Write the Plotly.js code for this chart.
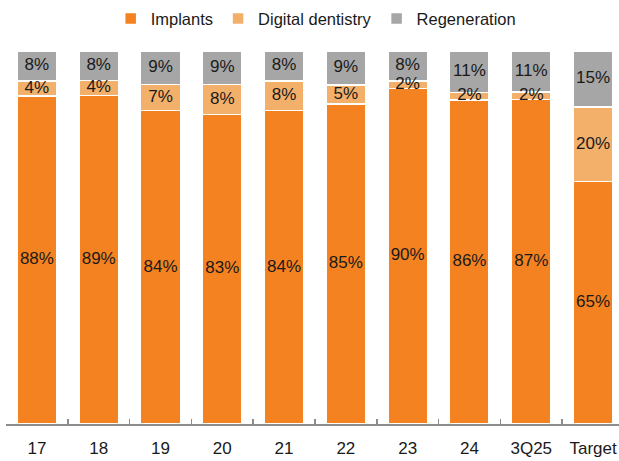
<!DOCTYPE html>
<html>
<head>
<meta charset="utf-8">
<script src="https://cdn.plot.ly/plotly-3.0.1.min.js"></script>
<style>
  html, body { margin: 0; padding: 0; background: #fff; }
  #chart { width: 619px; height: 461px; }
</style>
</head>
<body>
<div id="chart"></div>
<script>
// Revenue mix by segment, share of total (%)
var categories = ['17', '18', '19', '20', '21', '22', '23', '24', '3Q25', 'Target'];
var implants = [88, 89, 84, 83, 84, 85, 90, 86, 87, 65];
var digital = [4, 4, 7, 8, 8, 5, 2, 2, 2, 20];
var regeneration = [8, 8, 9, 9, 8, 9, 8, 11, 11, 15];

var series = [
    { name: 'Implants', values: implants, color: '#F58220' },
    { name: 'Digital dentistry', values: digital, color: '#F2B06B' },
    { name: 'Regeneration', values: regeneration, color: '#A6A6A6' }
];

var FONT = '"Liberation Sans", Arial, sans-serif';

var traces = [];

// the bars themselves (normalised to 100% like the original)
series.forEach(function(s) {
    traces.push({
        type: 'bar',
        name: s.name,
        x: categories,
        y: s.values,
        marker: { color: s.color, line: { color: '#ffffff', width: 1.5 } },
        hoverinfo: 'skip'
    });
});

// labels go in a separate text layer so the small 2% ones sit on top of
// the neighbouring segments instead of being hidden under them
var base = categories.map(function() { return 0; });
series.forEach(function(s) {
    var mids = [];
    for (var i = 0; i < categories.length; i++) {
        var total = implants[i] + digital[i] + regeneration[i];
        var share = s.values[i] / total * 100;
        mids.push(base[i] + share / 2);
        base[i] += share;
    }
    traces.push({
        type: 'scatter',
        mode: 'text',
        x: categories,
        y: mids,
        text: s.values.map(function(v) { return v + '%'; }),
        textposition: 'middle center',
        textfont: { family: FONT, size: 17, color: '#1a1a1a' },
        showlegend: false,
        cliponaxis: false,
        hoverinfo: 'skip'
    });
});

var layout = {
    width: 619,
    height: 461,
    barmode: 'stack',
    barnorm: 'percent',
    bargap: 0.36,
    margin: { l: 6, r: 0, t: 51, b: 37, pad: 0 },
    paper_bgcolor: '#ffffff',
    plot_bgcolor: '#ffffff',
    font: { family: FONT, size: 16.5, color: '#1a1a1a' },
    showlegend: true,
    legend: {
        orientation: 'h',
        xref: 'container',
        yref: 'container',
        x: 0.51,
        xanchor: 'center',
        y: 0.997,
        yanchor: 'top',
        font: { family: FONT, size: 16.5, color: '#1a1a1a' },
        traceorder: 'normal',
        itemwidth: 30
    },
    xaxis: {
        type: 'category',
        range: [-0.5, 9.42],
        tickson: 'boundaries',
        ticks: 'inside',
        ticklen: 5,
        tickcolor: '#8c8c8c',
        tickwidth: 1.5,
        ticklabelstandoff: 8,
        showline: true,
        linecolor: '#8c8c8c',
        linewidth: 1.5,
        showgrid: false,
        zeroline: false,
        tickfont: { family: FONT, size: 17, color: '#1a1a1a' }
    },
    yaxis: {
        range: [0, 100],
        visible: false,
        showgrid: false,
        zeroline: false,
        fixedrange: true
    }
};

Plotly.newPlot('chart', traces, layout, { displayModeBar: false, staticPlot: true });
</script>
</body>
</html>
